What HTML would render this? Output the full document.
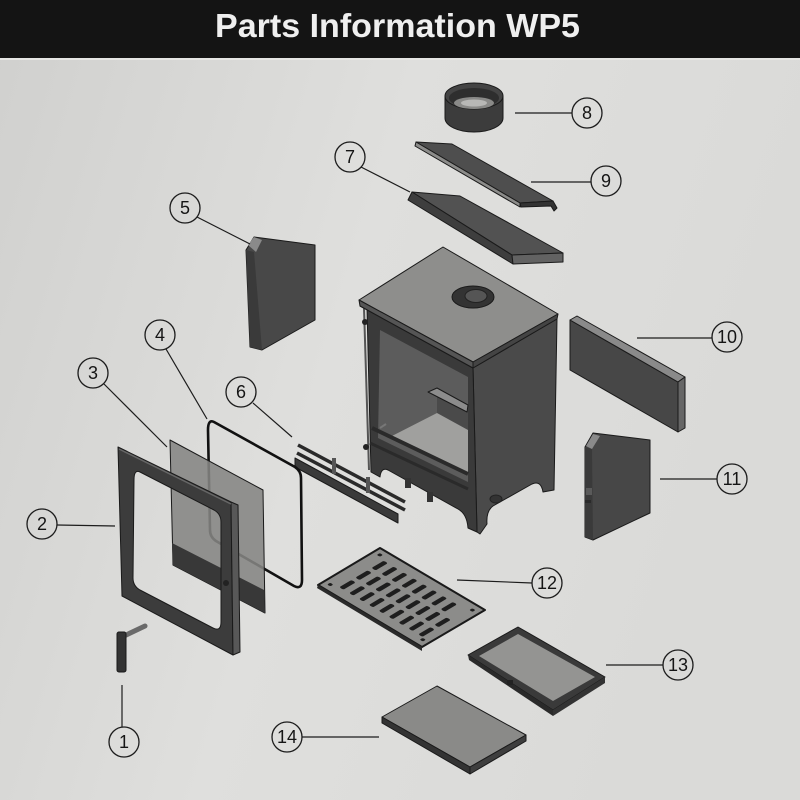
<!DOCTYPE html>
<html><head><meta charset="utf-8"><style>
html,body{margin:0;padding:0;width:800px;height:800px;overflow:hidden;background:#dcdcda;}
svg{display:block;}
.c{fill:none;stroke:#1c1c1c;stroke-width:1.3;}
.n{font-family:"Liberation Sans",sans-serif;font-size:18px;fill:#151515;text-anchor:middle;}
.l{stroke:#1c1c1c;stroke-width:1.2;fill:none;}
.o{stroke:#1a1a1a;stroke-width:1;stroke-linejoin:round;}
</style></head><body>
<svg width="800" height="800" viewBox="0 0 800 800" xmlns="http://www.w3.org/2000/svg">
<defs>
<linearGradient id="bg" x1="0" y1="0" x2="1" y2="0.3">
<stop offset="0" stop-color="#d0d0ce"/><stop offset="0.5" stop-color="#dfdfdd"/><stop offset="1" stop-color="#dadad8"/>
</linearGradient>
</defs>
<rect x="0" y="0" width="800" height="800" fill="url(#bg)"/>
<rect x="0" y="0" width="800" height="58" fill="#141414"/>
<rect x="0" y="58" width="800" height="2" fill="#e6e6e4"/>
<text x="215" y="37" font-family="Liberation Sans, sans-serif" font-weight="bold" font-size="33" fill="#efefef" textLength="365" lengthAdjust="spacingAndGlyphs">Parts Information WP5</text>

<!-- Part 8 ring -->
<path d="M445,96 L445,118 A29,14 0 0 0 503,118 L503,96 Z" fill="#3c3c3c" class="o"/>
<ellipse cx="474" cy="96" rx="29" ry="13" fill="#444" class="o"/>
<ellipse cx="474" cy="98" rx="25" ry="10" fill="#2e2e2e"/>
<ellipse cx="474" cy="103" rx="20" ry="6" fill="#8a8a88"/>
<ellipse cx="474" cy="103" rx="13" ry="3.5" fill="#b8b8b6"/>
<line class="l" x1="515" y1="113" x2="572" y2="113"/>
<circle class="c" cx="587" cy="113" r="15"/><text class="n" x="587" y="119">8</text>

<!-- Part 9 plate -->
<polygon points="416,142 452,144 553,201 520,203" fill="#4e4e4e" class="o"/>
<polygon points="416,142 520,203 520,207 415,146" fill="#8c8c8a" class="o"/>
<polygon points="520,203 553,201 557,208 554,211 551,206 521,207" fill="#333" class="o"/>
<line class="l" x1="531" y1="182" x2="591" y2="182"/>
<circle class="c" cx="606" cy="181" r="15"/><text class="n" x="606" y="187">9</text>

<!-- Part 7 block -->
<polygon points="412,192 460,196 563,253 512,255" fill="#525252" class="o"/>
<polygon points="412,192 512,255 513,264 408,200" fill="#3e3e3e" class="o"/>
<polygon points="512,255 563,253 563,262 513,264" fill="#626262" class="o"/>
<line class="l" x1="361" y1="167" x2="410" y2="192"/>
<circle class="c" cx="350" cy="157" r="15"/><text class="n" x="350" y="163">7</text>

<!-- Part 5 -->
<polygon points="246,250 254,237 315,245 315,320 262,350 250,347" fill="#484848" class="o"/>
<polygon points="246,250 254,252 262,350 250,347" fill="#3a3a3a"/>
<polygon points="248,245 254,237 262,240 256,252" fill="#8a8a8a"/>
<line class="l" x1="197" y1="217" x2="250" y2="244"/>
<circle class="c" cx="185" cy="208" r="15"/><text class="n" x="185" y="214">5</text>

<!-- Stove -->
<path d="M473,368 L557,319 L554,490 L543,492 Q541,480 532,484 L493,506 Q486,511 487,524 L480,534 L477,532 Z" fill="#4a4a4a" class="o"/>
<ellipse cx="496" cy="499" rx="6" ry="4" fill="#333" stroke="#222"/>
<path d="M360,306 L473,368 L477,532 L468,528 Q467,514 458,509 L388,470 Q381,467 380,477 L371,472 L367,308 Z" fill="#3a3a3a" class="o"/>
<polygon points="380,330 468,377 468,482 378,438" fill="#5c5c5c"/>
<polygon points="437,388 468,405 468,434 437,418" fill="#4a4a4a"/>
<polygon points="390,437 437,413 468,430 468,473" fill="#a0a09e"/>
<polygon points="428,392 437,388 468,405 467,412" fill="#8c8c8c" class="o"/>
<line x1="372" y1="428" x2="468" y2="474" stroke="#2a2a2a" stroke-width="4"/>
<line x1="370" y1="443" x2="468" y2="489" stroke="#2a2a2a" stroke-width="3"/>
<line x1="364" y1="308" x2="369" y2="470" stroke="#555" stroke-width="2"/>
<circle cx="365" cy="322" r="3" fill="#222"/>
<circle cx="366" cy="447" r="3" fill="#222"/>
<line x1="380" y1="428" x2="386" y2="424" stroke="#777" stroke-width="2"/>
<rect x="405" y="478" width="6" height="10" fill="#333"/>
<rect x="427" y="492" width="6" height="10" fill="#333"/>
<polygon points="359,300 443,247 558,314 473,362" fill="#8e8e8c" class="o"/>
<polygon points="359,300 473,362 473,368 360,306" fill="#555" class="o"/>
<polygon points="473,362 558,314 557,319 473,368" fill="#444" class="o"/>
<ellipse cx="473" cy="297" rx="21" ry="11" fill="#333" class="o"/>
<ellipse cx="476" cy="296" rx="11" ry="6.5" fill="#555" stroke="#222"/>

<!-- Part 10 -->
<polygon points="570,320 678,382 678,432 570,370" fill="#474747" class="o"/>
<polygon points="570,320 577,316 685,377 678,382" fill="#8a8a8a" class="o"/>
<polygon points="678,382 685,377 685,428 678,432" fill="#666" class="o"/>
<line class="l" x1="637" y1="338" x2="712" y2="338"/>
<circle class="c" cx="727" cy="337" r="15"/><text class="n" x="727" y="343">10</text>

<!-- Part 11 -->
<polygon points="585,447 593,433 650,440 650,513 593,540 585,537" fill="#474747" class="o"/>
<polygon points="585,447 592,449 593,540 585,537" fill="#3a3a3a"/>
<polygon points="586,446 593,434 600,436 592,449" fill="#8a8a8a"/>
<rect x="586" y="488" width="6" height="7" fill="#5a5a5a"/>
<rect x="585" y="500" width="6" height="3" fill="#2a2a2a"/>
<line class="l" x1="660" y1="479" x2="717" y2="479"/>
<circle class="c" cx="732" cy="479" r="15"/><text class="n" x="732" y="485">11</text>

<!-- Part 6 -->
<line x1="298" y1="445" x2="405" y2="502" stroke="#2a2a2a" stroke-width="3.5"/>
<line x1="297" y1="453" x2="405" y2="510" stroke="#2a2a2a" stroke-width="3.5"/>
<polygon points="295,458 398,514 398,523 295,467" fill="#3a3a3a" class="o"/>
<line x1="334" y1="458" x2="334" y2="474" stroke="#555" stroke-width="4"/>
<line x1="368" y1="477" x2="368" y2="493" stroke="#555" stroke-width="4"/>
<line class="l" x1="253" y1="403" x2="292" y2="437"/>
<circle class="c" cx="241" cy="392" r="15"/><text class="n" x="241" y="398">6</text>

<!-- Part 4 seal -->
<path d="M214,422 L295,467 Q301,471 301,478 L302,580 Q302,590 294,586 L216,541 Q210,537 210,530 L208,430 Q208,419 214,422 Z" fill="none" stroke="#111" stroke-width="2.6"/>
<line class="l" x1="166" y1="349" x2="207" y2="419"/>
<circle class="c" cx="160" cy="335" r="15"/><text class="n" x="160" y="341">4</text>

<!-- Part 3 glass -->
<polygon points="170,440 263,490 265,613 173,565" fill="#858583" fill-opacity="0.88" class="o"/>
<polygon points="172,543 264,590 265,613 173,565" fill="#383838"/>
<line class="l" x1="104" y1="384" x2="167" y2="447"/>
<circle class="c" cx="93" cy="373" r="15"/><text class="n" x="93" y="379">3</text>

<!-- Part 2 door -->
<path fill-rule="evenodd" d="M118,447 L231,502 L233,655 L122,596 Z M140,472 L214,510 Q221,514 221,522 L221,622 Q221,632 213,628 L140,590 Q133,586 133,578 L134,480 Q134,469 140,472 Z" fill="#3c3c3c" class="o"/>
<polygon points="231,502 238,505 240,652 233,655" fill="#585858" class="o"/>
<line x1="119" y1="449" x2="231" y2="504" stroke="#666" stroke-width="1.5"/>
<circle cx="226" cy="583" r="3" fill="#222"/>
<line class="l" x1="57" y1="525" x2="115" y2="526"/>
<circle class="c" cx="42" cy="524" r="15"/><text class="n" x="42" y="530">2</text>

<!-- Part 1 handle -->
<line x1="124" y1="636" x2="145" y2="626" stroke="#6a6a6a" stroke-width="5" stroke-linecap="round"/>
<rect x="117" y="632" width="9" height="40" rx="2" fill="#333" stroke="#1a1a1a"/>
<line class="l" x1="122" y1="685" x2="122" y2="727"/>
<circle class="c" cx="124" cy="742" r="15"/><text class="n" x="124" y="748">1</text>

<!-- Part 12 grate -->
<polygon points="318,585 380,548 485,610 422,647" fill="#8c8c8a" stroke="#1a1a1a" stroke-width="2" stroke-linejoin="round"/>
<polygon points="318,585 422,647 422,651 317,588" fill="#2a2a2a"/>
<g transform="matrix(1.04,0.62,0.62,-0.37,318,585)" fill="#1e1e1e">
<rect x="12" y="14" width="4" height="20" rx="2"/><rect x="21.5" y="14" width="4" height="20" rx="2"/><rect x="31" y="14" width="4" height="20" rx="2"/><rect x="40.5" y="14" width="4" height="20" rx="2"/><rect x="50" y="14" width="4" height="20" rx="2"/><rect x="59.5" y="14" width="4" height="20" rx="2"/><rect x="69" y="14" width="4" height="20" rx="2"/><rect x="78.5" y="14" width="4" height="20" rx="2"/><rect x="88" y="14" width="4" height="20" rx="2"/>
<rect x="12" y="40" width="4" height="20" rx="2"/><rect x="21.5" y="40" width="4" height="20" rx="2"/><rect x="31" y="40" width="4" height="20" rx="2"/><rect x="40.5" y="40" width="4" height="20" rx="2"/><rect x="50" y="40" width="4" height="20" rx="2"/><rect x="59.5" y="40" width="4" height="20" rx="2"/><rect x="69" y="40" width="4" height="20" rx="2"/><rect x="78.5" y="40" width="4" height="20" rx="2"/><rect x="88" y="40" width="4" height="20" rx="2"/>
<rect x="12" y="66" width="4" height="20" rx="2"/><rect x="21.5" y="66" width="4" height="20" rx="2"/><rect x="31" y="66" width="4" height="20" rx="2"/><rect x="40.5" y="66" width="4" height="20" rx="2"/><rect x="50" y="66" width="4" height="20" rx="2"/><rect x="59.5" y="66" width="4" height="20" rx="2"/><rect x="69" y="66" width="4" height="20" rx="2"/><rect x="78.5" y="66" width="4" height="20" rx="2"/>
<rect x="4" y="8" width="3" height="5" rx="1.5"/><rect x="93" y="8" width="3" height="5" rx="1.5"/><rect x="4" y="88" width="3" height="5" rx="1.5"/><rect x="93" y="88" width="3" height="5" rx="1.5"/>
</g>
<line class="l" x1="457" y1="580" x2="532" y2="583"/>
<circle class="c" cx="547" cy="583" r="15"/><text class="n" x="547" y="589">12</text>

<!-- Part 13 ash pan -->
<polygon points="468,655 518,627 605,677 553,710" fill="#3a3a3a" class="o"/>
<polygon points="468,655 553,710 553,716 469,660" fill="#2a2a2a"/>
<polygon points="553,710 605,677 605,683 553,716" fill="#333"/>
<polygon points="479,656 518,634 595,677 553,701" fill="#949492"/>
<rect x="507" y="680" width="6" height="5" fill="#222"/>
<line class="l" x1="606" y1="665" x2="663" y2="665"/>
<circle class="c" cx="678" cy="665" r="15"/><text class="n" x="678" y="671">13</text>

<!-- Part 14 plate -->
<polygon points="382,717 437,686 526,735 470,767" fill="#8a8a88" class="o"/>
<polygon points="382,717 470,767 470,774 382,723" fill="#333" class="o"/>
<polygon points="470,767 526,735 526,741 470,774" fill="#3e3e3e" class="o"/>
<line class="l" x1="302" y1="737" x2="379" y2="737"/>
<circle class="c" cx="287" cy="737" r="15"/><text class="n" x="287" y="743">14</text>
</svg>
</body></html>
